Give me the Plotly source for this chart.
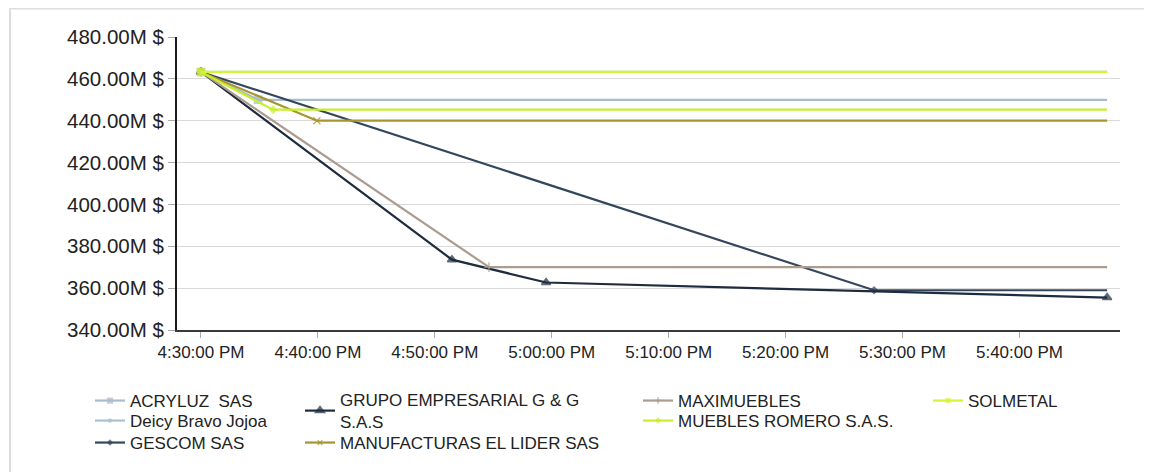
import plotly.graph_objects as go

# ---- data ----
day = "2023-01-01 "
series_names = [
    "ACRYLUZ  SAS",
    "Deicy Bravo Jojoa",
    "GESCOM SAS",
    "GRUPO EMPRESARIAL G & G<br>S.A.S",
    "MANUFACTURAS EL LIDER SAS",
    "MAXIMUEBLES",
    "MUEBLES ROMERO S.A.S.",
    "SOLMETAL",
]
acryluz_t = ["16:30:00", "16:34:53", "17:47:30"]
acryluz_v = [463.3, 450.0, 450.0]
deicy_t = ["16:30:00", "17:47:30"]
deicy_v = [463.3, 463.3]
gescom_t = ["16:30:00", "17:27:34", "17:47:30"]
gescom_v = [463.3, 359.0, 359.0]
grupo_t = ["16:30:00", "16:51:28", "16:59:31", "17:47:30"]
grupo_v = [463.3, 373.6, 362.7, 355.5]
manuf_t = ["16:30:00", "16:39:55", "17:47:30"]
manuf_v = [463.3, 440.0, 440.0]
maxi_t = ["16:30:00", "16:54:38", "17:47:30"]
maxi_v = [463.3, 370.0, 370.0]
romero_t = ["16:30:00", "16:36:10", "17:47:30"]
romero_v = [463.3, 445.3, 445.3]
solmetal_t = ["16:30:00", "17:47:30"]
solmetal_v = [463.3, 463.3]

y_ticks = [340, 360, 380, 400, 420, 440, 460, 480]
y_tick_text = ["340.00M $", "360.00M $", "380.00M $", "400.00M $",
               "420.00M $", "440.00M $", "460.00M $", "480.00M $"]
x_ticks = ["16:30:00", "16:40:00", "16:50:00", "17:00:00", "17:10:00",
           "17:20:00", "17:30:00", "17:40:00"]

# ---- layout geometry (figure pixels; page adds an 8px body margin) ----
W, H = 1144, 464
L, T = 169, 29
PR, PB = 1112, 322          # plot right / bottom edges
R, B = W - PR, H - PB
pw, ph = PR - L, PB - T
OFF = 8                      # body margin of the page


def px_x(px):
    return (px - OFF - L) / pw


def px_y(py):
    return (PB - (py - OFF)) / ph


# legend placement: (text start x, text centre y) in screenshot pixels
legend_pos = [(130, 401), (130, 421), (130, 443),
              (340, 411), (340, 443),
              (678, 401), (678, 421),
              (968, 401)]

styles = [
    dict(t=acryluz_t, v=acryluz_v, color="#a9bbcf", symbol="square", size=7, last=False),
    dict(t=deicy_t, v=deicy_v, color="#a9bfd6", symbol="circle", size=6, last=False),
    dict(t=gescom_t, v=gescom_v, color="#34465c", symbol="diamond", size=5, last=False),
    dict(t=grupo_t, v=grupo_v, color="#1e2c3e", symbol="triangle-up", size=8, last=True),
    dict(t=manuf_t, v=manuf_v, color="#a8952e", symbol="x-thin-open", size=7, last=False),
    dict(t=maxi_t, v=maxi_v, color="#ab9c8e", symbol="cross-thin-open", size=7, last=False),
    dict(t=romero_t, v=romero_v, color="#c8ee2c", symbol="diamond", size=5, last=False),
    dict(t=solmetal_t, v=solmetal_v, color="#d2f53c", symbol="square", size=7, last=False),
]

fig = go.Figure()
legend_layouts = {}
legend_font = dict(family="Liberation Sans, Arial, sans-serif", size=17, color="#222222")
for i, (name, s) in enumerate(zip(series_names, styles)):
    n = len(s["t"])
    sizes = [s["size"]] * n
    if not s["last"]:
        sizes[-1] = 0
    lname = "legend" if i == 0 else f"legend{i + 1}"
    fig.add_trace(go.Scatter(
        x=[day + t for t in s["t"]],
        y=s["v"],
        name=name,
        mode="lines+markers",
        line=dict(color=s["color"], width=2.2),
        marker=dict(symbol=s["symbol"], size=sizes, color=s["color"],
                    line=dict(color=s["color"], width=1.5)),
        legend=lname,
    ))
    tx, ty = legend_pos[i]
    legend_layouts[lname] = dict(
        x=px_x(tx - 40), y=px_y(ty), xanchor="left", yanchor="middle",
        font=legend_font, bgcolor="rgba(0,0,0,0)", orientation="v",
        itemwidth=30, tracegroupgap=0,
    )

fig.update_layout(
    width=W, height=H,
    margin=dict(l=L, r=R, t=T, b=B, autoexpand=False),
    paper_bgcolor="white", plot_bgcolor="white",
    font=dict(family="Liberation Sans, Arial, sans-serif", color="#222222"),
    showlegend=True,
    xaxis=dict(
        type="date",
        range=[day + "16:27:57", day + "17:48:36"],
        tickvals=[day + t for t in x_ticks],
        tickformat="%-I:%M:%S %p",
        tickfont=dict(size=17, color="#222222"),
        showgrid=False,
        showline=True, linecolor="#3a3a3a", linewidth=2,
        ticks="outside", ticklen=6, tickcolor="#aaaaaa", tickwidth=1,
        zeroline=False,
    ),
    yaxis=dict(
        range=[340, 480],
        tickvals=y_ticks,
        ticktext=y_tick_text,
        tickfont=dict(size=20.5, color="#222222"),
        showgrid=True, gridcolor="#dadada", gridwidth=1,
        showline=True, linecolor="#1a1a1a", linewidth=2,
        ticks="outside", ticklen=7, tickcolor="#aaaaaa", tickwidth=1,
        zeroline=False,
    ),
    shapes=[dict(
        type="rect", xref="paper", yref="paper", layer="below",
        x0=px_x(10), x1=px_x(1170), y0=px_y(8.5), y1=px_y(490),
        line=dict(color="#dddddd", width=2), fillcolor="rgba(0,0,0,0)",
    )],
    **legend_layouts,
)

fig.write_html("out.html")
